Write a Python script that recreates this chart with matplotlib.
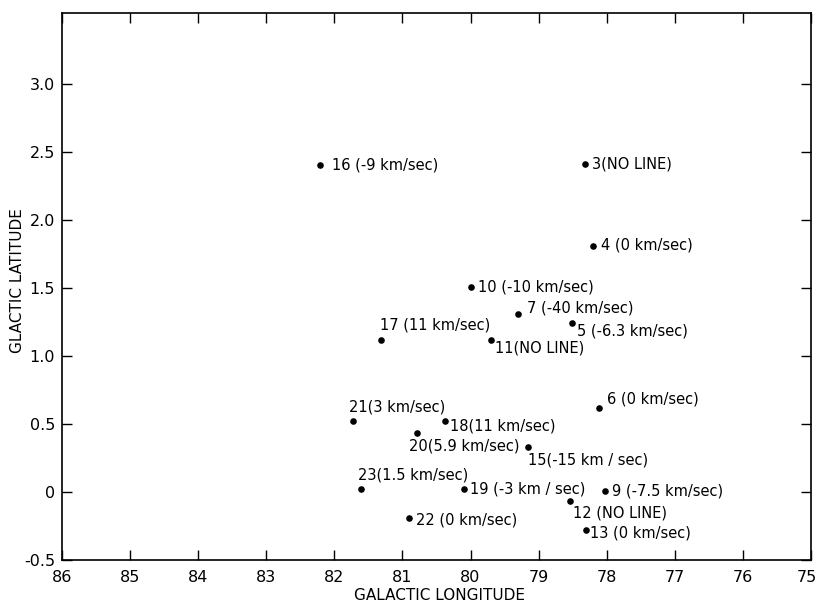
import matplotlib
matplotlib.use("Agg")
import matplotlib.pyplot as plt
from matplotlib.transforms import ScaledTranslation

# Data
ids = ["16", "3", "4", "10", "7", "5", "11", "17", "6", "21", "18", "20", "15", "23", "19", "9", "12", "22", "13"]
longitude = [82.21, 78.32, 78.2, 80.0, 79.31, 78.51, 79.7, 81.32, 78.11, 81.73, 80.38, 80.79, 79.15, 81.61, 80.1, 78.03, 78.54, 80.9, 78.31]
latitude = [2.4, 2.41, 1.81, 1.51, 1.31, 1.24, 1.12, 1.12, 0.62, 0.52, 0.52, 0.43, 0.33, 0.02, 0.02, 0.01, -0.07, -0.19, -0.28]
labels = ["16 (-9 km/sec)", "3(NO LINE)", "4 (0 km/sec)", "10 (-10 km/sec)", "7 (-40 km/sec)",
          "5 (-6.3 km/sec)", "11(NO LINE)", "17 (11 km/sec)", "6 (0 km/sec)", "21(3 km/sec)",
          "18(11 km/sec)", "20(5.9 km/sec)", "15(-15 km / sec)", "23(1.5 km/sec)", "19 (-3 km / sec)",
          "9 (-7.5 km/sec)", "12 (NO LINE)", "22 (0 km/sec)", "13 (0 km/sec)"]
# label offsets in pixels (dx, dy)
offsets = [(12, 0), (7, 0), (8, 1), (7, 0), (9, 6), (5, -8), (4, -8), (-1, 15), (8, 9), (-4, 14),
           (5, -5), (-8, -13), (0, -13), (-3, 14), (6, 0), (7, 0), (3, -12), (7, -2), (4, -3)]

xticks = [86, 85, 84, 83, 82, 81, 80, 79, 78, 77, 76, 75]
yticks = [-0.5, 0, 0.5, 1.0, 1.5, 2.0, 2.5, 3.0]
ytick_labels = ["-0.5", "0", "0.5", "1.0", "1.5", "2.0", "2.5", "3.0"]

plt.rcParams['font.family'] = ['DejaVu Sans']
fig = plt.figure(figsize=(8.17, 6.03), dpi=100)
ax = fig.add_axes([62/817, 1 - 560/603, (811-62)/817, (560-13)/603])

ax.scatter(longitude, latitude, s=14, color="black", zorder=3)
for x, y, t, (dx, dy) in zip(longitude, latitude, labels, offsets):
    ax.annotate(t, (x, y), xytext=(dx, dy), textcoords="offset pixels",
                ha="left", va="center", fontsize=10.5, color="black")

ax.set_xlim(86, 75)
ax.set_ylim(-0.5, 3.52)
ax.set_xticks(xticks)
ax.set_xticklabels([str(v) for v in xticks], fontsize=11.5)
ax.set_yticks(yticks)
ax.set_yticklabels(ytick_labels, fontsize=11.5)
ax.tick_params(direction="in", length=7, width=1.0, top=True, right=True)
ax.tick_params(axis="x", pad=7)
ax.tick_params(axis="y", pad=5)
for s in ax.spines.values():
    s.set_linewidth(1.2)

last = ax.get_xticklabels()[-1]
last.set_transform(last.get_transform() + ScaledTranslation(-4/100, 0, fig.dpi_scale_trans))

ax.set_xlabel("GALACTIC LONGITUDE", fontsize=11)
ax.set_ylabel("GLACTIC LATITUDE", fontsize=11)
ax.xaxis.set_label_coords(0.5 + (440 - 436.5)/749, -(595 - 560)/547)
ax.xaxis.label.set_va("center")
ax.yaxis.set_label_coords((18 - 62)/749, (560 - 281)/547)
ax.yaxis.label.set_va("center")

fig.savefig("out.png", dpi=100)
